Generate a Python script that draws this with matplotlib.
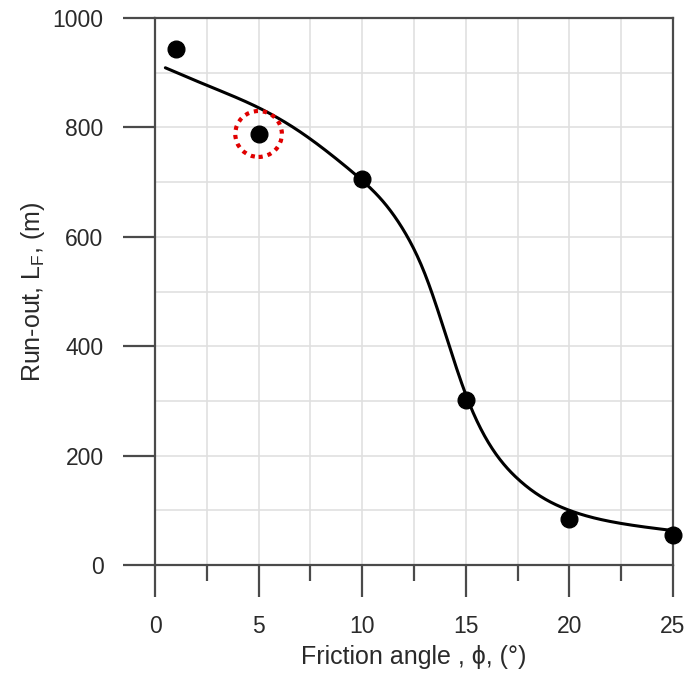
import numpy as np
import matplotlib
matplotlib.use("Agg")
import matplotlib.pyplot as plt
from matplotlib.patches import Ellipse

# measured run-out for each friction angle
friction_angle = [1, 5, 10, 15, 20, 25]
run_out = [943, 788, 706, 302, 84, 54]

# fitted trend curve
fit_angle = [0.5, 2.5, 5, 7, 9, 10, 11, 12, 13, 14, 15, 16, 17.5, 19, 20, 22.5, 25]
fit_runout = [909, 877, 836, 792, 735, 703, 665, 612, 535, 425, 312, 230, 158, 117, 100, 76, 63]

highlight = 1  # point circled in red

x_ticks = [0, 5, 10, 15, 20, 25]
y_ticks = [0, 200, 400, 600, 800, 1000]


def natural_spline(xk, yk, xs):
    """Natural cubic spline through the curve points."""
    xk = np.asarray(xk, float)
    yk = np.asarray(yk, float)
    n = len(xk)
    h = np.diff(xk)
    A = np.zeros((n, n))
    b = np.zeros(n)
    A[0, 0] = A[-1, -1] = 1
    for i in range(1, n - 1):
        A[i, i - 1] = h[i - 1]
        A[i, i] = 2 * (h[i - 1] + h[i])
        A[i, i + 1] = h[i]
        b[i] = 6 * ((yk[i + 1] - yk[i]) / h[i] - (yk[i] - yk[i - 1]) / h[i - 1])
    M = np.linalg.solve(A, b)
    idx = np.clip(np.searchsorted(xk, xs) - 1, 0, n - 2)
    x0, x1 = xk[idx], xk[idx + 1]
    hh = h[idx]
    return (M[idx] * (x1 - xs)**3 / (6 * hh) + M[idx + 1] * (xs - x0)**3 / (6 * hh)
            + (yk[idx] / hh - M[idx] * hh / 6) * (x1 - xs)
            + (yk[idx + 1] / hh - M[idx + 1] * hh / 6) * (xs - x0))


plt.rcParams["font.family"] = ["Liberation Sans", "DejaVu Sans"]
plt.rcParams["mathtext.fontset"] = "custom"
plt.rcParams["mathtext.rm"] = "Liberation Sans"

axis_col = "#4a4a4a"
text_col = "#2a2a2a"

fig = plt.figure(figsize=(6.88, 6.74), dpi=100)
ax = fig.add_axes([0.2253, 0.1617, 0.7527, 0.8116])

xs = np.linspace(fit_angle[0], fit_angle[-1], 400)
ax.plot(xs, natural_spline(fit_angle, fit_runout, xs), color="black", lw=2.2,
        zorder=3, solid_capstyle="round")
ax.plot(friction_angle, run_out, "o", color="black", ms=12,
        zorder=4, clip_on=False)

# dotted red ring around the highlighted point
ring = Ellipse((friction_angle[highlight], run_out[highlight]),
               width=2.25, height=84, fill=False, edgecolor="#e00000",
               lw=3, linestyle=(0, (1, 1.2)), zorder=5)
ax.add_patch(ring)

ax.set_xlim(0, 25)
ax.set_ylim(0, 1000)
ax.set_xticks(x_ticks)
ax.set_xticks(np.arange(2.5, 25, 5), minor=True)
ax.set_yticks(y_ticks)
ax.set_yticks(np.arange(100, 1000, 200), minor=True)

ax.grid(True, which="both", color="#e0e0e0", lw=1.2, zorder=0)
ax.set_axisbelow(True)

for sp in ax.spines.values():
    sp.set_color(axis_col)
    sp.set_linewidth(1.6)

ax.tick_params(axis="both", which="major", direction="out", length=23,
               width=1.6, color=axis_col, labelsize=16.5, labelcolor=text_col)
ax.tick_params(axis="x", which="major", pad=13)
ax.tick_params(axis="y", which="major", pad=14)
ax.tick_params(axis="x", which="minor", direction="out", length=11.5,
               width=1.6, color=axis_col)
ax.tick_params(axis="y", which="minor", length=0)

ax.set_xlabel("Friction angle , ϕ, (°)", fontsize=18, color=text_col, labelpad=5)
ax.set_ylabel("Run-out, L$_\\mathrm{F}$, (m)", fontsize=18, color=text_col,
              labelpad=4)

fig.savefig("out.png", dpi=100)
